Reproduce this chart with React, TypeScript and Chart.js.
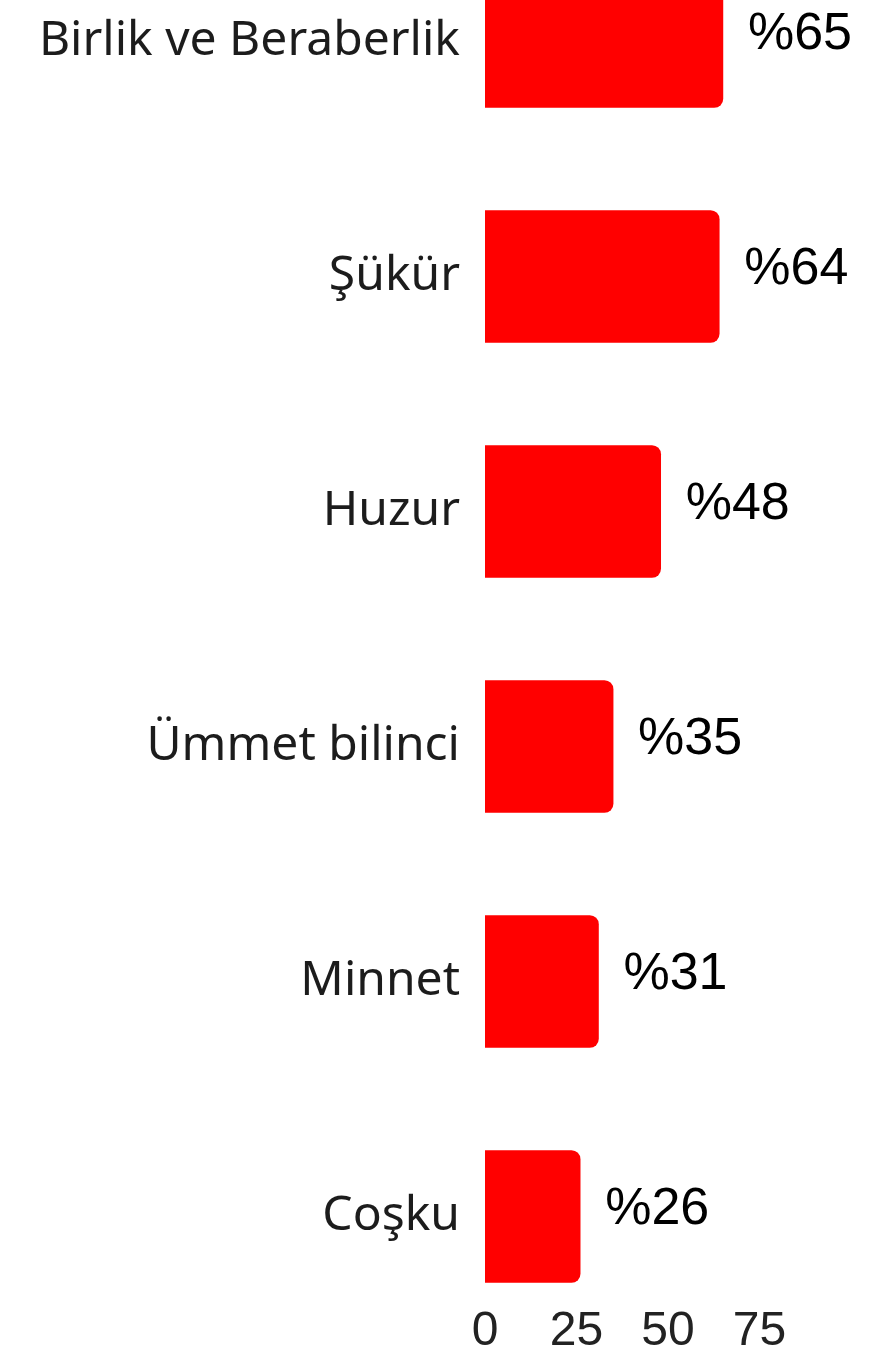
import React, { useEffect, useRef } from "react";
import { Chart, registerables } from "chart.js";

Chart.register(...registerables);

const categories: string[] = [
  "Birlik ve Beraberlik",
  "Şükür",
  "Huzur",
  "Ümmet bilinci",
  "Minnet",
  "Coşku",
];
const values: number[] = [65, 64, 48, 35, 31, 26];
const xTicks: number[] = [0, 25, 50, 75];

const valueLabelPlugin = {
  id: "valueLabels",
  afterLayout(chart: any) {
    const x = chart.scales.x;
    if (x) {
      x.top -= 31;
      x.bottom -= 31;
    }
  },
  afterDatasetsDraw(chart: any) {
    const ctx = chart.ctx;
    const meta = chart.getDatasetMeta(0);
    ctx.save();
    ctx.font = "52px 'Liberation Sans', Arial, sans-serif";
    ctx.fillStyle = "#000000";
    ctx.textAlign = "left";
    ctx.textBaseline = "middle";
    meta.data.forEach((bar: any, i: number) => {
      ctx.fillText("%" + values[i], bar.x + 25, bar.y - 7);
    });
    ctx.restore();
  },
};

export default function App() {
  const ref = useRef<HTMLCanvasElement | null>(null);

  useEffect(() => {
    if (!ref.current) return;
    const chart = new Chart(ref.current, {
      type: "bar",
      data: {
        labels: categories,
        datasets: [
          {
            data: values,
            backgroundColor: "#ff0000",
            borderSkipped: false,
            borderRadius: { topLeft: 0, bottomLeft: 0, topRight: 9, bottomRight: 9 },
            barThickness: 132,
          },
        ],
      },
      options: {
        indexAxis: "y",
        responsive: false,
        animation: false,
        layout: { padding: { left: 0, right: 113.5, top: 0, bottom: 0 } },
        plugins: {
          legend: { display: false },
          tooltip: { enabled: false },
        },
        scales: {
          x: {
            min: 0,
            max: 75,
            afterBuildTicks: (s: any) => {
              s.ticks = xTicks.map((v) => ({ value: v }));
            },
            afterFit: (s: any) => {
              s.height = 60;
            },
            grid: { display: false, drawTicks: false },
            border: { display: false },
            ticks: {
              padding: 0,
              color: "#222222",
              font: { family: "'Liberation Sans', Arial, sans-serif", size: 48 },
            },
          },
          y: {
            afterFit: (s: any) => {
              s.width = 485;
              s.paddingTop = 0;
              s.paddingBottom = 0;
            },
            grid: { display: false, drawTicks: false },
            border: { display: false },
            ticks: {
              padding: 25,
              color: "#1c1c1c",
              font: { family: "'Noto Sans', sans-serif", size: 48 },
            },
          },
        },
      },
      plugins: [valueLabelPlugin],
    });
    return () => chart.destroy();
  }, []);

  return (
    <div
      style={{
        position: "absolute",
        top: 0,
        left: 0,
        width: 873,
        height: 1358,
        overflow: "hidden",
        background: "#ffffff",
      }}
    >
      <canvas
        ref={ref}
        width={873}
        height={1470}
        style={{ display: "block", marginTop: -76.5 }}
      />
    </div>
  );
}
